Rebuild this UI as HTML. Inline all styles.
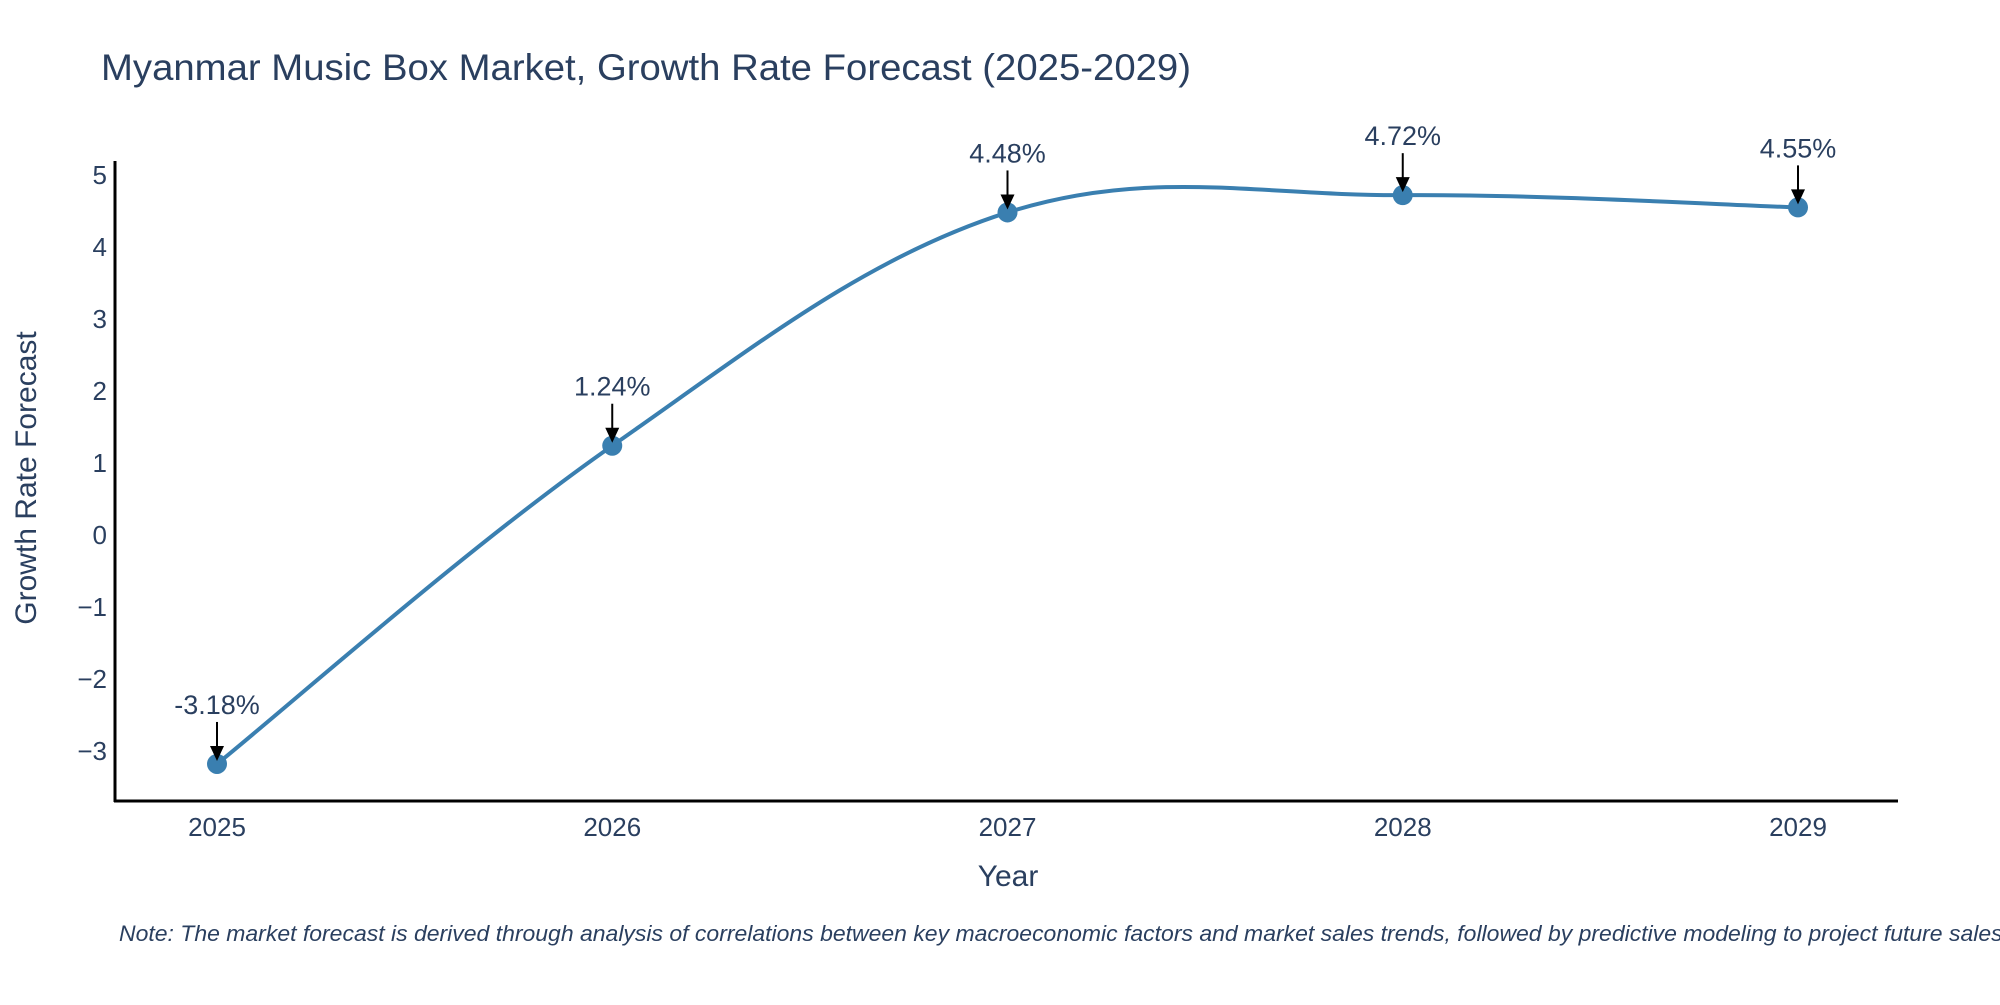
<!DOCTYPE html>
<html><head><meta charset="utf-8"><style>
body{margin:0;background:#fff;}
svg text{font-family:"Liberation Sans",sans-serif;fill:#2a3f5f;}
</style></head><body>
<svg width="2000" height="1000" xmlns="http://www.w3.org/2000/svg">
<text x="101" y="80" font-size="37" textLength="1090" lengthAdjust="spacingAndGlyphs">Myanmar Music Box Market, Growth Rate Forecast (2025-2029)</text>
<g id="yticks"></g>
<g id="xticks"></g>
<line x1="115" y1="161" x2="115" y2="802" stroke="#000" stroke-width="3"/>
<line x1="114" y1="801" x2="1898" y2="801" stroke="#000" stroke-width="3"/>
<path id="line" fill="none" stroke="#3a7fb0" stroke-width="4"/>
<g id="points"></g>
<g id="annots"></g>
<text x="1008" y="886" font-size="30" text-anchor="middle">Year</text>
<text transform="translate(36,478) rotate(-90)" font-size="30" text-anchor="middle">Growth Rate Forecast</text>
<text x="119" y="941" font-size="22" font-style="italic" textLength="1890" lengthAdjust="spacingAndGlyphs">Note: The market forecast is derived through analysis of correlations between key macroeconomic factors and market sales trends, followed by predictive modeling to project future sales.</text>
</svg>
<script>
const years = ["2025","2026","2027","2028","2029"];
const values = [-3.18, 1.24, 4.48, 4.72, 4.55];
const labels = ["-3.18%","1.24%","4.48%","4.72%","4.55%"];
const yTicks = [-3,-2,-1,0,1,2,3,4,5];
const yTickLabels = ["\u22123","\u22122","\u22121","0","1","2","3","4","5"];
const NS="http://www.w3.org/2000/svg";
const xs=i=>217+i*(1798-217)/(years.length-1);
const ys=v=>535-v*72;
function mk(t,a,p){const e=document.createElementNS(NS,t);for(const k in a)e.setAttribute(k,a[k]);p.appendChild(e);return e;}
const yt=document.getElementById('yticks');
yTicks.forEach((v,i)=>{const t=mk('text',{x:107,y:ys(v)+9,'font-size':26,'text-anchor':'end'},yt);t.textContent=yTickLabels[i];

});
const xt=document.getElementById('xticks');
years.forEach((y,i)=>{const t=mk('text',{x:xs(i),y:836,'font-size':26,'text-anchor':'middle'},xt);t.textContent=y;

});
const P=values.map((v,i)=>[xs(i),ys(v)]);
let d=`M${P[0][0]},${P[0][1]}`;const s=0.18;
for(let i=0;i<P.length-1;i++){const p0=P[i-1]||P[i],p1=P[i],p2=P[i+1],p3=P[i+2]||P[i+1];
d+=` C${p1[0]+(p2[0]-p0[0])*s},${p1[1]+(p2[1]-p0[1])*s} ${p2[0]-(p3[0]-p1[0])*s},${p2[1]-(p3[1]-p1[1])*s} ${p2[0]},${p2[1]}`;}
document.getElementById('line').setAttribute('d',d);
const pg=document.getElementById('points'),ag=document.getElementById('annots');
P.forEach((p,i)=>{const c=mk('circle',{cx:p[0],cy:p[1],r:10,fill:'#3a7fb0'},pg);


const l=mk('line',{x1:p[0],y1:p[1]-42,x2:p[0],y2:p[1]-16,stroke:'#000','stroke-width':2},ag);


const h=mk('polygon',{points:`${p[0]-7},${p[1]-18} ${p[0]+7},${p[1]-18} ${p[0]},${p[1]-3}`,fill:'#000'},ag);


const t=mk('text',{x:p[0],y:p[1]-50,'font-size':27,'text-anchor':'middle'},ag);t.textContent=labels[i];

});
</script>
</body></html>
